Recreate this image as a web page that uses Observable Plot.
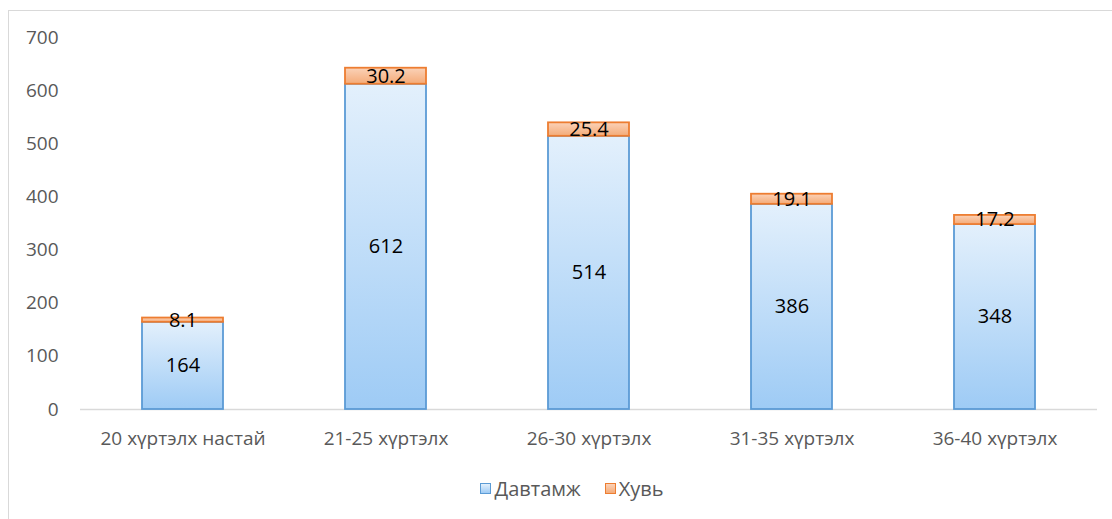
<!DOCTYPE html>
<html>
<head>
<meta charset="utf-8">
<script src="https://cdn.jsdelivr.net/npm/d3@7"></script>
<script src="https://cdn.jsdelivr.net/npm/@observablehq/plot@0.6"></script>
<style>
  html, body { margin: 0; padding: 0; background: #fff; overflow: hidden; }
  body { width: 1112px; height: 519px; position: relative; font-family: "Open Sans", "Noto Sans", sans-serif; }
  #frame { position: absolute; left: 8px; top: 10px; width: 1200px; height: 600px; border: 1px solid #d9d9d9; box-sizing: border-box; }
  #chart { position: absolute; left: 0; top: 0; }
  #legend { position: absolute; left: 16px; top: 475px; width: 1112px; display: flex; justify-content: center; gap: 24px; font-size: 20px; line-height: 27px; color: #595959; }
  .item { display: flex; align-items: center; gap: 3px; }
  .sw { width: 9px; height: 9px; display: inline-block; }
</style>
</head>
<body>
<div id="frame"></div>
<div id="chart"></div>
<div id="legend">
  <span class="item"><span class="sw" style="background: linear-gradient(#e3f0fc, #9ecbf5); border: 1.5px solid #5b9bd5;"></span><span id="lg1"></span></span>
  <span class="item"><span class="sw" style="background: linear-gradient(#fbd2b8, #f4ab78); border: 1.5px solid #ed7d31;"></span><span id="lg2"></span></span>
</div>
<script>
const categories = ["20 хүртэлх настай", "21-25 хүртэлх", "26-30 хүртэлх", "31-35 хүртэлх", "36-40 хүртэлх"];
const davtamj = [164, 612, 514, 386, 348];
const khuv = [8.1, 30.2, 25.4, 19.1, 17.2];
const seriesNames = ["Давтамж", "Хувь"];
const yTicks = [0, 100, 200, 300, 400, 500, 600, 700];

document.getElementById("lg1").textContent = seriesNames[0];
document.getElementById("lg2").textContent = seriesNames[1];

const rows = categories.map((c, i) => ({cat: c, d: davtamj[i], k: khuv[i]}));

const chart = Plot.plot({
  width: 1112,
  height: 460,
  marginLeft: 80,
  marginRight: 15,
  marginTop: 37,
  marginBottom: 51,
  style: {fontFamily: "Open Sans, Noto Sans, sans-serif", fontSize: "19px", color: "#595959", background: "transparent"},
  x: {domain: categories, paddingInner: 0.6, paddingOuter: 0.3, label: null, tickSize: 0, tickPadding: 22},
  y: {domain: [0, 700], ticks: yTicks, label: null, tickSize: 0, tickPadding: 22},
  marks: [
    Plot.ruleY([0], {stroke: "#d9d9d9", strokeWidth: 1.3}),
    Plot.barY(rows, {x: "cat", y1: 0, y2: "d", fill: "url(#gBlue)", stroke: "#5b9bd5", strokeWidth: 1.8}),
    Plot.barY(rows, {x: "cat", y1: "d", y2: d => d.d + d.k, fill: "url(#gOrange)", stroke: "#ed7d31", strokeWidth: 1.8}),
    Plot.text(rows, {x: "cat", y: d => d.d / 2, text: d => String(d.d), fill: "#000", fontSize: 20}),
    Plot.text(rows, {x: "cat", y: d => d.d + d.k / 2, text: d => d.k.toFixed(1), fill: "#000", fontSize: 20})
  ]
});

const ns = "http://www.w3.org/2000/svg";
const defs = document.createElementNS(ns, "defs");
function grad(id, top, bottom) {
  const g = document.createElementNS(ns, "linearGradient");
  g.setAttribute("id", id);
  g.setAttribute("x1", "0"); g.setAttribute("y1", "0");
  g.setAttribute("x2", "0"); g.setAttribute("y2", "1");
  [[0, top], [1, bottom]].forEach(([o, c]) => {
    const s = document.createElementNS(ns, "stop");
    s.setAttribute("offset", o);
    s.setAttribute("stop-color", c);
    g.appendChild(s);
  });
  defs.appendChild(g);
}
grad("gBlue", "#e3f0fc", "#9ecbf5");
grad("gOrange", "#fbd2b8", "#f4ab78");
chart.insertBefore(defs, chart.firstChild);
chart.querySelectorAll("[aria-label='x-axis tick label'] text, [aria-label='y-axis tick label'] text").forEach(t => t.setAttribute("fill", "#595959"));
document.getElementById("chart").appendChild(chart);
</script>
</body>
</html>
